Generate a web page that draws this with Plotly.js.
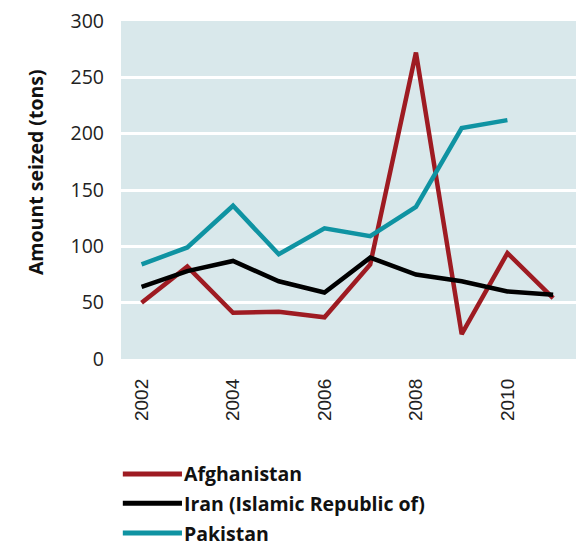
<!DOCTYPE html>
<html>
<head>
<meta charset="utf-8">
<script src="https://cdn.plot.ly/plotly-3.0.1.min.js"></script>
<style>html,body{margin:0;padding:0;background:#fff;}#chart{width:585px;height:549px;}</style>
</head>
<body>
<div id="chart"></div>
<script>
const years = [2002, 2003, 2004, 2005, 2006, 2007, 2008, 2009, 2010, 2011];
const afghanistan = [50, 82, 41, 42, 37, 84, 272, 22, 94, 54];
const iran = [64, 78, 87, 69, 59, 90, 75, 69, 60, 57];
const pakistanYears = [2002, 2003, 2004, 2005, 2006, 2007, 2008, 2009, 2010];
const pakistan = [84, 99, 136, 93, 116, 109, 135, 205, 212];
const seriesNames = ['Afghanistan', 'Iran (Islamic Republic of)', 'Pakistan'];
const seriesColors = ['#9e1b22', '#000000', '#0f93a2'];
const xTicks = [2002, 2004, 2006, 2008, 2010];
const yTicks = [0, 50, 100, 150, 200, 250, 300];
const yTitle = 'Amount seized (tons)';

const traces = [
  {x: years, y: afghanistan, name: seriesNames[0]},
  {x: years, y: iran, name: seriesNames[1]},
  {x: pakistanYears, y: pakistan, name: seriesNames[2]}
].map((t, i) => Object.assign(t, {
  type: 'scatter', mode: 'lines',
  line: {color: seriesColors[i], width: 4.5},
  showlegend: false, hoverinfo: 'skip'
}));

const legendY = [-0.34, -0.427, -0.515];
const shapes = [];
const annotations = [];
seriesNames.forEach((n, i) => {
  shapes.push({type: 'line', xref: 'paper', yref: 'paper', x0: 0.004, x1: 0.134,
    y0: legendY[i], y1: legendY[i], line: {color: seriesColors[i], width: 5}});
  annotations.push({xref: 'paper', yref: 'paper', x: 0.134, y: legendY[i],
    xanchor: 'left', yanchor: 'middle', showarrow: false, text: '<b>' + n + '</b>',
    font: {family: 'Open Sans, sans-serif', size: 19.5, color: '#111'}});
});
annotations.push({xref: 'paper', yref: 'paper', x: -0.189, y: 0.553,
  xanchor: 'center', yanchor: 'middle', textangle: -90, showarrow: false,
  text: '<b>' + yTitle + '</b>',
  font: {family: 'Open Sans, sans-serif', size: 19.5, color: '#111'}});

const layout = {
  width: 585, height: 549,
  margin: {l: 121, r: 9, t: 21, b: 190},
  paper_bgcolor: '#ffffff', plot_bgcolor: '#d9e8eb',
  font: {family: 'Open Sans, sans-serif', size: 19.5, color: '#222'},
  xaxis: {
    range: [2001.55, 2011.5], tickvals: xTicks, ticktext: xTicks.map(String),
    tickangle: -90, showgrid: false, zeroline: false, showline: false,
    ticks: '', ticklabelstandoff: 15,
    tickfont: {family: 'Liberation Sans, Arial, sans-serif', size: 19, color: '#222'}
  },
  yaxis: {
    range: [0, 300], tickvals: yTicks, showgrid: true, gridcolor: '#ffffff', gridwidth: 3,
    zeroline: false, showline: false, ticks: '', ticklabelstandoff: 16,
    tickfont: {size: 19.5, color: '#222'}
  },
  shapes: shapes,
  annotations: annotations
};

Plotly.newPlot('chart', traces, layout, {displayModeBar: false, staticPlot: true});
</script>
</body>
</html>
